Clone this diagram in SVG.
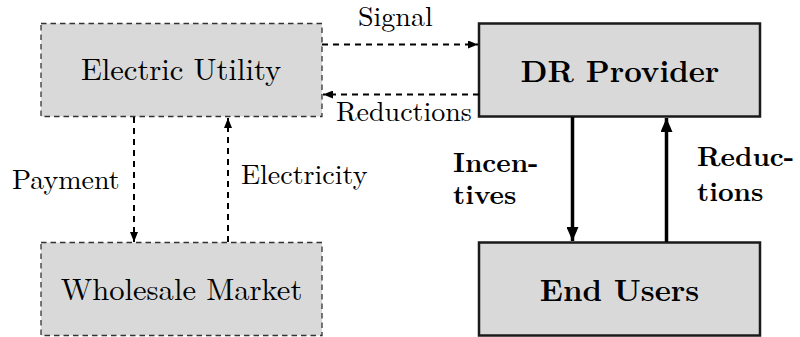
<svg xmlns="http://www.w3.org/2000/svg" width="800" height="337" viewBox="0 0 800 337">
<style>
.t{font-size:30.6px;text-anchor:middle}
.b{font-weight:bold}
.l{font-size:28px}
.bl{font-size:27.3px;font-weight:bold}
.dbox{fill:#d9d9d9;stroke:#333;stroke-width:1.3;stroke-dasharray:5.5 4}
.sbox{fill:#d9d9d9;stroke:#1a1a1a;stroke-width:2.5}
.da{fill:none;stroke:#000;stroke-width:2;stroke-dasharray:6 5}
.sa{fill:none;stroke:#000;stroke-width:3.5}
</style>
<defs>
<marker id="ah" viewBox="0 0 10 8" refX="10" refY="4" markerWidth="10" markerHeight="8" markerUnits="userSpaceOnUse" orient="auto"><path d="M0,0 L10,4 L0,8 Z" fill="#000"/></marker>
<marker id="ahb" viewBox="0 0 14 12" refX="14" refY="6" markerWidth="14" markerHeight="12" markerUnits="userSpaceOnUse" orient="auto"><path d="M0,0 L14,6 L0,12 Z" fill="#000"/></marker>
</defs>
<g font-family="Latin Modern Roman, Liberation Serif, serif" fill="#000">
<g id="electric-utility"><rect class="dbox" x="41" y="23.5" width="281" height="93"/><text class="t" x="181" y="79.5">Electric Utility</text></g>
<g id="dr-provider"><rect class="sbox" x="479" y="23.5" width="281" height="93"/><text class="t b" x="620" y="81.5">DR Provider</text></g>
<g id="wholesale-market"><rect class="dbox" x="41" y="242.5" width="281" height="93"/><text class="t" x="181.5" y="300">Wholesale Market</text></g>
<g id="end-users"><rect class="sbox" x="479" y="242.5" width="281" height="93"/><text class="t b" x="619.5" y="300.5">End Users</text></g>
<g id="connectors">
<line class="da" x1="322" y1="44.5" x2="478" y2="44.5" marker-end="url(#ah)"/>
<line class="da" x1="479" y1="94.5" x2="323" y2="94.5" marker-end="url(#ah)"/>
<line class="da" x1="134" y1="117" x2="134" y2="242" marker-end="url(#ah)"/>
<line class="da" x1="228" y1="242" x2="228" y2="118" marker-end="url(#ah)"/>
<line class="sa" x1="572.5" y1="117" x2="572.5" y2="241" marker-end="url(#ahb)"/>
<line class="sa" x1="666.5" y1="242" x2="666.5" y2="118" marker-end="url(#ahb)"/>
<text class="l" x="358" y="26">Signal</text>
<text class="l" x="336" y="121">Reductions</text>
<text class="l" x="12" y="189">Payment</text>
<text class="l" x="241" y="184">Electricity</text>
<text class="bl" x="453" y="172">Incen-</text>
<text class="bl" x="453" y="204">tives</text>
<text class="bl" x="697" y="166">Reduc-</text>
<text class="bl" x="697" y="201">tions</text>
</g>
</g>
</svg>
